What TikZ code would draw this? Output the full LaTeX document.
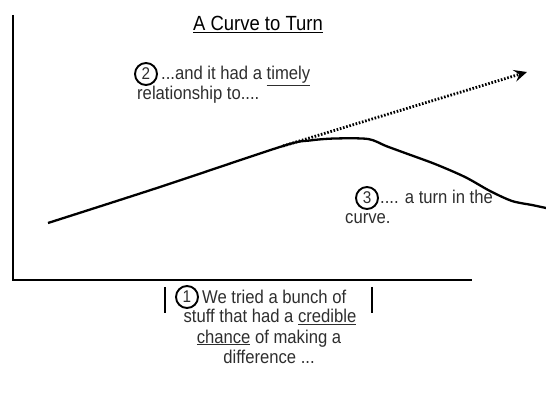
\documentclass[tikz,border=0pt]{standalone}
\usepackage{fontspec}
\setmainfont[FakeStretch=0.9]{Liberation Sans}
\usetikzlibrary{arrows.meta, positioning}
\definecolor{txtGrey}{HTML}{2E2E2E}
\tikzset{
  axisline/.style  = {line width=2.6pt, black},
  trend/.style     = {line width=2.3pt, black, line join=round},
  hope/.style      = {line width=2.8pt, black, dash pattern=on 1.6pt off 1.7pt,
                      -{Stealth[length=13pt, width=12pt, inset=5pt]}},
  numring/.style   = {circle, draw=black, line width=1.9pt, inner sep=0pt,
                      minimum size=22pt, font=\fontsize{17}{17}\selectfont, text=txtGrey},
  lbl/.style       = {font=\fontsize{18.5}{20}\selectfont, text=txtGrey, inner sep=0pt},
  ttl/.style       = {font=\fontsize{20.5}{22}\selectfont, text=black, inner sep=0pt},
  barmark/.style   = {line width=2.8pt, black},
}

\begin{document}
\begin{tikzpicture}[x=1pt, y=-1pt]
  \useasboundingbox (0,0) rectangle (546,395);

  % axes
  \coordinate (top)    at (13,15);
  \coordinate (origin) at (13,280);
  \coordinate (xend)   at (472,280);
  \draw[axisline] (top) -- (origin) -- (xend);

  \node[ttl, anchor=base] (title) at (258,31) {\underline{A Curve to Turn}};

  % the curve and the hoped-for trend
  \coordinate (start) at (48,223);
  \coordinate (fork)  at (283,146);
  \coordinate (tip)   at (527,72);
  \draw[trend] plot[smooth, tension=0.5] coordinates
    {(start) (160,187) (fork) (310,140.5) (335,138.5) (368,139) (386,146)
     (405,153) (435,164) (465,177) (490,191) (512,201) (532,205) (546,208)};
  \draw[hope] (fork) -- (tip);

  % label 2
  \node[numring] (n2) at (146,74) {2};
  \node[lbl, anchor=base west] (l2a) at (161,80) {...and it had a \underline{timely}};
  \node[lbl, anchor=base west] (l2b) at (137,100) {relationship to....};

  % label 3
  \node[numring] (n3) at (367,198) {3};
  \node[lbl, anchor=base west] (l3a) at (380,204) {.... a turn in the};
  \node[lbl, anchor=base west] (l3b) at (345,224) {curve.};

  % label 1
  \node[numring] (n1) at (187,297) {1};
  \node[lbl, anchor=base west] (l1a) at (202,303) {We tried a bunch of};
  \node[lbl, anchor=base] (l1b) at (270,323) {stuff that had a \underline{credible}};
  \node[lbl, anchor=base] (l1c) at (269,343) {\underline{chance} of making a};
  \node[lbl, anchor=base] (l1d) at (269,363) {difference ...};
  \draw[barmark] (165,287) -- (165,313);
  \draw[barmark] (372,287) -- (372,313);
\end{tikzpicture}
\end{document}
